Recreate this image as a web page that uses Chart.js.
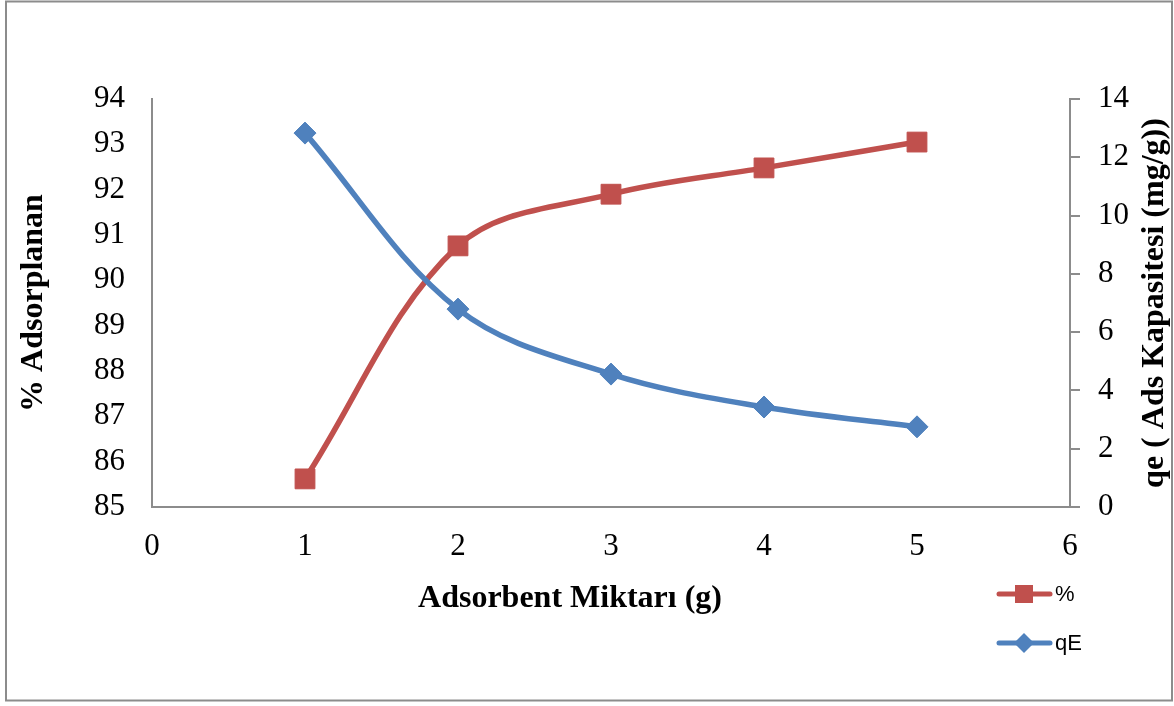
<!DOCTYPE html>
<html>
<head>
<meta charset="utf-8">
<title>Adsorbent Miktarı</title>
<script src="https://cdn.jsdelivr.net/npm/chart.js@4.4.1/dist/chart.umd.min.js"></script>
<style>
  body { margin: 0; background: #fff; }
  #chart { display: block; }
</style>
</head>
<body>
<canvas id="chart" width="1174" height="706"></canvas>
<script>
// values
const adsorbentAmount = [1, 2, 3, 4, 5];
const percentAdsorbed = [85.62, 90.76, 91.90, 92.48, 93.05];
const qE = [12.83, 6.79, 4.56, 3.43, 2.75];

const xTitle = 'Adsorbent Miktarı (g)';
const leftTitle = '% Adsorplanan';
const rightTitle = 'qe ( Ads Kapasitesi (mg/g))';

const RED = '#C0504D';
const BLUE = '#4F81BD';
const AXIS = '#8c8c8c';
const SERIF = "'Liberation Serif', 'Times New Roman', serif";

function toPoints(xs, ys) {
    return xs.map((x, i) => ({ x: x, y: ys[i] }));
}

// frame, axis titles and legend
const extras = {
    id: 'extras',
    beforeDraw(chart) {
        const ctx = chart.ctx;
        ctx.save();
        ctx.strokeStyle = AXIS;
        ctx.lineWidth = 2;
        ctx.strokeRect(6, 1.5, 1166, 699);
        ctx.restore();
    },
    afterDraw(chart) {
        const ctx = chart.ctx;
        const area = chart.chartArea;
        const midY = (area.top + area.bottom) / 2;
        ctx.save();
        ctx.fillStyle = '#000';
        ctx.font = 'bold 32px ' + SERIF;
        ctx.textBaseline = 'alphabetic';
        ctx.textAlign = 'center';

        ctx.fillText(xTitle, 570, 607);

        ctx.save();
        ctx.translate(42, midY);
        ctx.rotate(-Math.PI / 2);
        ctx.fillText(leftTitle, 0, 0);
        ctx.restore();

        ctx.save();
        ctx.translate(1163, midY);
        ctx.rotate(-Math.PI / 2);
        ctx.fillText(rightTitle, 0, 0);
        ctx.restore();

        // legend
        const items = [
            { label: '%', color: RED, style: 'rect', y: 594 },
            { label: 'qE', color: BLUE, style: 'rectRot', y: 643 }
        ];
        ctx.font = "22px 'Liberation Sans', Arial, sans-serif";
        ctx.textAlign = 'left';
        ctx.textBaseline = 'middle';
        items.forEach(item => {
            ctx.strokeStyle = item.color;
            ctx.fillStyle = item.color;
            ctx.lineWidth = 5;
            ctx.lineCap = 'round';
            ctx.beginPath();
            ctx.moveTo(999, item.y);
            ctx.lineTo(1050, item.y);
            ctx.stroke();
            ctx.beginPath();
            if (item.style === 'rect') {
                ctx.rect(1015, item.y - 9, 18, 18);
            } else {
                ctx.moveTo(1024, item.y - 10);
                ctx.lineTo(1034, item.y);
                ctx.lineTo(1024, item.y + 10);
                ctx.lineTo(1014, item.y);
                ctx.closePath();
            }
            ctx.fill();
            ctx.fillStyle = '#000';
            ctx.fillText(item.label, 1055, item.y + 1);
        });
        ctx.restore();
    }
};

document.addEventListener('DOMContentLoaded', function () {
    const ctx = document.getElementById('chart').getContext('2d');
    new Chart(ctx, {
        type: 'line',
        data: {
            datasets: [{
                label: '%',
                data: toPoints(adsorbentAmount, percentAdsorbed),
                yAxisID: 'y',
                borderColor: RED,
                backgroundColor: RED,
                borderWidth: 5.5,
                tension: 0.35,
                pointStyle: 'rect',
                pointRadius: 14,
                pointBorderWidth: 1,
                pointBorderColor: RED,
                pointBackgroundColor: RED,
                order: 1
            }, {
                label: 'qE',
                data: toPoints(adsorbentAmount, qE),
                yAxisID: 'y1',
                borderColor: BLUE,
                backgroundColor: BLUE,
                borderWidth: 5.5,
                tension: 0.35,
                pointStyle: 'rectRot',
                pointRadius: 11,
                pointBorderWidth: 1,
                pointBorderColor: BLUE,
                pointBackgroundColor: BLUE,
                order: 0
            }]
        },
        options: {
            responsive: false,
            animation: false,
            events: [],
            layout: { padding: { top: 99, left: 0, right: 0, bottom: 0 } },
            plugins: {
                legend: { display: false },
                title: { display: false },
                tooltip: { enabled: false }
            },
            scales: {
                x: {
                    type: 'linear',
                    min: 0,
                    max: 6,
                    grid: { display: false, drawTicks: false },
                    border: { display: true, color: AXIS, width: 2 },
                    ticks: {
                        stepSize: 1,
                        padding: 21,
                        color: '#000',
                        font: { family: SERIF, size: 31 },
                        maxRotation: 0
                    },
                    afterFit(scale) { scale.height = 199; }
                },
                y: {
                    position: 'left',
                    min: 85,
                    max: 94,
                    grid: { display: false, drawTicks: false },
                    border: { display: true, color: AXIS, width: 2 },
                    ticks: {
                        stepSize: 1,
                        padding: 27,
                        color: '#000',
                        font: { family: SERIF, size: 31 }
                    },
                    afterFit(scale) { scale.width = 152; }
                },
                y1: {
                    position: 'right',
                    min: 0,
                    max: 14,
                    grid: {
                        display: true,
                        drawOnChartArea: false,
                        drawTicks: true,
                        tickLength: 10,
                        color: AXIS,
                        lineWidth: 2
                    },
                    border: { display: true, color: AXIS, width: 2 },
                    ticks: {
                        stepSize: 2,
                        padding: 18,
                        color: '#000',
                        font: { family: SERIF, size: 31 }
                    },
                    afterFit(scale) { scale.width = 104; }
                }
            }
        },
        plugins: [extras]
    });
});
</script>
</body>
</html>
